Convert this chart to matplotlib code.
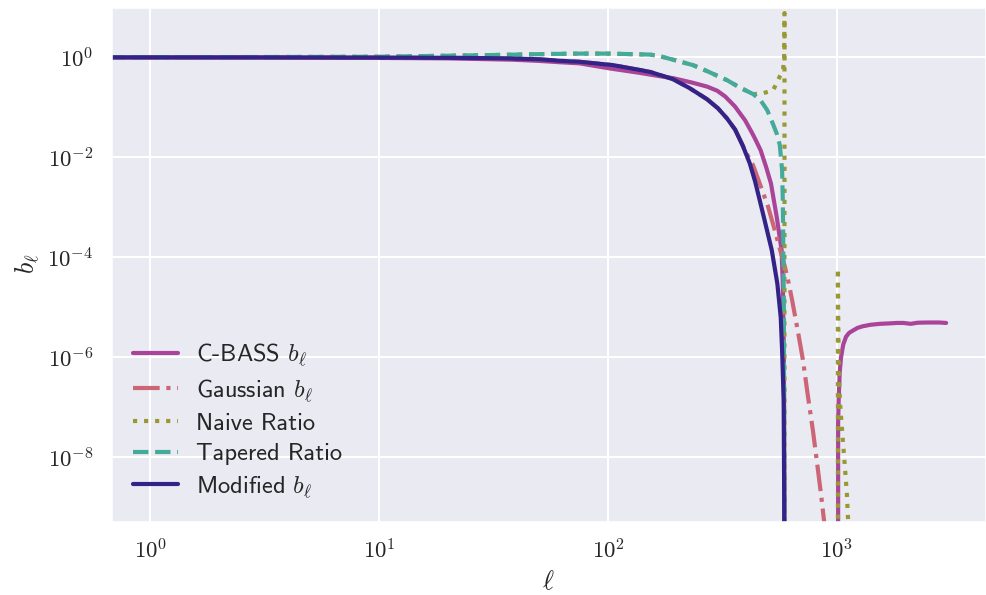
import math

import matplotlib
matplotlib.use("Agg")
import matplotlib.pyplot as plt
import seaborn as sns
from matplotlib.ticker import FuncFormatter, LogLocator

# beam transfer functions, read off at a handful of multipoles
# (0 marks where the function is non-positive and drops off the log axis)
cbass_ell = [0, 1, 3, 10, 20, 38, 50, 61.5, 75, 102, 137.5, 168.5, 192, 235, 271,
             300, 325, 358, 397, 424, 438, 464, 490, 515, 546, 573, 580, 586,
             589, 590,
             1010, 1012, 1018, 1028, 1042, 1065, 1096, 1130, 1168, 1230, 1296,
             1400, 1540, 1700, 1830, 1950, 2100, 2250, 2500, 2800, 3000]
cbass_bl = [1.0, 0.995, 0.99, 0.975, 0.955, 0.90, 0.85, 0.80, 0.76, 0.60, 0.49,
            0.42, 0.385, 0.31, 0.26, 0.215, 0.165, 0.105, 0.055, 0.032, 0.024,
            0.0139, 6.5e-3, 3.0e-3, 6.3e-4, 1.4e-4, 3.0e-5, 1.4e-6, 1e-8, 0,
            0, 5e-8, 1.5e-7, 5e-7, 1.0e-6, 1.8e-6, 2.6e-6, 3.1e-6, 3.4e-6,
            3.9e-6, 4.2e-6, 4.5e-6, 4.7e-6, 4.8e-6, 4.9e-6, 4.9e-6, 4.7e-6,
            4.95e-6, 5.0e-6, 5.0e-6, 4.9e-6]

gauss_ell = [0, 1, 3, 10, 20, 30, 38, 50, 61.5, 75, 105, 152, 192, 227, 271, 302,
             331, 359, 387, 416, 430, 475, 500, 537, 565, 593, 615, 637, 677,
             710, 748, 785, 819, 855, 888, 950]
gauss_bl = [1.0, 1.0, 0.999, 0.99, 0.98, 0.965, 0.95, 0.915, 0.855, 0.816, 0.70,
            0.515, 0.368, 0.243, 0.145, 0.096, 0.060, 0.036, 0.0175, 9.0e-3,
            7.0e-3, 2.0e-3, 1.04e-3, 3.3e-4, 1.4e-4, 6.4e-5, 3.1e-5, 1.4e-5,
            3.1e-6, 9e-7, 1.6e-7, 3.5e-8, 7.7e-9, 1.6e-9, 3.5e-10, 2e-11]

naive_ell = [0, 1, 3, 10, 20, 30, 50, 75, 100, 137.5, 152, 168, 192, 235, 271,
             331, 376, 431, 472, 526, 553, 582, 588, 589, 590, 591,
             1009, 1010, 1012, 1016, 1022, 1032, 1050, 1067, 1086, 1105, 1116,
             1130, 1200]
naive_ratio = [1.01, 1.01, 1.015, 1.03, 1.08, 1.11, 1.16, 1.19, 1.19, 1.15, 1.14,
               1.06, 0.90, 0.70, 0.53, 0.35, 0.25, 0.184, 0.19, 0.22, 0.35, 0.58,
               1.0, 2.8, 7.7, 0,
               0, 6.0e-5, 1.0e-5, 1.5e-6, 4e-7, 1.2e-7, 4.1e-8, 1.6e-8, 5.6e-9,
               1.9e-9, 7e-10, 2.5e-10, 3e-12]

taper_ell = [0, 1, 3, 10, 20, 30, 50, 75, 100, 137.5, 152, 168, 192, 235, 271,
             331, 376, 431, 463, 496, 526, 547, 563, 576, 580, 586, 589, 590]
taper_ratio = [1.01, 1.01, 1.015, 1.03, 1.08, 1.11, 1.16, 1.19, 1.19, 1.15, 1.14,
               1.06, 0.90, 0.70, 0.53, 0.35, 0.25, 0.184, 0.14, 0.088, 0.046,
               0.029, 0.0175, 5.5e-3, 1.4e-3, 1.4e-5, 1e-9, 0]

mod_ell = [0, 1, 3, 10, 20, 30, 38, 50, 61.5, 75, 105, 152, 192, 227, 271, 302,
           331, 359, 387, 416, 439, 477, 519, 549, 568, 576, 585, 589, 590]
mod_bl = [1.0, 1.0, 0.999, 0.99, 0.98, 0.965, 0.95, 0.915, 0.855, 0.816, 0.70,
          0.515, 0.368, 0.243, 0.145, 0.096, 0.060, 0.036, 0.0175, 7.6e-3,
          3.3e-3, 7.0e-4, 1.4e-4, 3.0e-5, 6.4e-6, 1.4e-6, 1.4e-7, 5e-10, 0]

sns.set_theme(style="darkgrid", context="talk")
plt.rcParams["mathtext.fontset"] = "cm"

fig = plt.figure(figsize=(9.86, 5.95), dpi=100)
ax = fig.add_axes([0.1121, 0.1232, 0.8879, 0.8655])

lw = 3
ax.plot(cbass_ell, cbass_bl, color="#AA4499", lw=lw, label=r"C-BASS $b_\ell$")
ax.plot(gauss_ell, gauss_bl, color="#CC6677", lw=lw, ls="-.", label=r"Gaussian $b_\ell$")
ax.plot(naive_ell, naive_ratio, color="#999933", lw=lw, ls=":", label="Naive Ratio")
ax.plot(taper_ell, taper_ratio, color="#44AA99", lw=lw, ls="--", label="Tapered Ratio")
ax.plot(mod_ell, mod_bl, color="#332288", lw=lw, label=r"Modified $b_\ell$")

ax.set_xscale("log", nonpositive="clip")
ax.set_yscale("log", nonpositive="clip")
ax.set_xlim(0.67, 4480)
ax.set_ylim(5.2e-10, 10.3)


def pow10(v, pos):
    return r"$10^{%d}$" % round(math.log10(v))


ax.xaxis.set_major_locator(LogLocator(base=10, subs=[1.0], numticks=20))
ax.xaxis.set_major_formatter(FuncFormatter(pow10))
ax.set_yticks([1e0, 1e-2, 1e-4, 1e-6, 1e-8])
ax.yaxis.set_major_formatter(FuncFormatter(pow10))
ax.tick_params(labelsize=16.5)

ax.set_xlabel(r"$\ell$", fontsize=19)
ax.set_ylabel(r"$b_\ell$", fontsize=19)

ax.legend(loc="lower left", frameon=False, prop={"family": "cmss10", "size": 17.6},
          handlelength=1.85, handletextpad=0.75, labelspacing=0.35)

fig.savefig("out.png", dpi=100)
